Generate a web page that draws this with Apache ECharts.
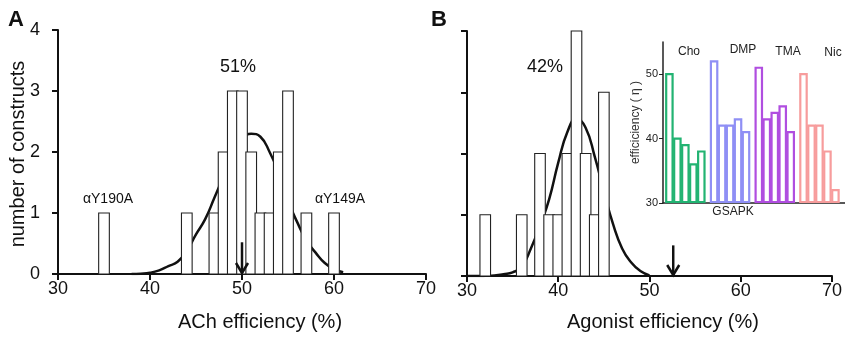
<!DOCTYPE html>
<html>
<head>
<meta charset="utf-8">
<script src="https://cdn.jsdelivr.net/npm/echarts@6/dist/echarts.min.js"></script>
<style>
  html, body { margin: 0; padding: 0; background: #fff; }
  #chart { width: 845px; height: 339px; }
</style>
</head>
<body>
<div id="chart"></div>
<script>
// panel A: ACh efficiency histogram
const achBins = [35, 44, 47, 48, 49, 50, 51, 52, 53, 54, 55, 57, 60];
const achCounts = [1, 1, 1, 2, 3, 3, 2, 1, 1, 2, 3, 1, 1];
const achFitX = [38, 39, 40, 41, 42, 43, 44, 45, 46, 47, 48, 49, 50, 51, 52, 53, 54, 55, 56, 57, 58, 59, 60, 61];
const achFitY = [0, 0.005, 0.02, 0.06, 0.13, 0.2, 0.38, 0.65, 0.9, 1.25, 1.6, 1.95, 2.2, 2.3, 2.25, 2.0, 1.65, 1.2, 0.85, 0.55, 0.35, 0.18, 0.08, 0.03];
const achArrow = [50, 0.52];

// panel B: agonist efficiency histogram
const agoBins = [32, 36, 38, 39, 40, 41, 42, 43, 44, 45];
const agoCounts = [1, 1, 2, 1, 1, 2, 4, 2, 1, 3];
const agoFitX = [30, 31, 32, 33, 34, 35, 36, 37, 38, 39, 40, 41, 42, 43, 44, 45, 46, 47, 48, 49, 50];
const agoFitY = [0, 0, 0.003, 0.01, 0.03, 0.06, 0.15, 0.45, 0.82, 1.25, 1.85, 2.35, 2.57, 2.42, 1.95, 1.38, 0.85, 0.45, 0.22, 0.08, 0.01];
const agoArrow = [52.6, 0.5];

// inset: efficiency per agonist
const insetGroups = ["Cho", "DMP", "TMA", "Nic"];
const choEta = [50, 40, 39, 36, 38];
const dmpEta = [52, 42, 42, 43, 41];
const tmaEta = [51, 43, 44, 45, 41];
const nicEta = [50, 42, 42, 38, 32];
const insetColors = ["#22b372", "#8f8ff5", "#b04ee0", "#f79c9c"];
const insetTicks = [30, 40, 50];

const chart = echarts.init(document.getElementById("chart"));

const zip = (xs, ys) => xs.map((x, i) => [x, ys[i]]);

const insetData = [];
[choEta, dmpEta, tmaEta, nicEta].forEach((vals, g) => {
    vals.forEach((v, i) => insetData.push([0.8 + g * 5.6 + i, v, g]));
});

function histItem(params, api) {
    const x = api.value(0), c = api.value(1);
    const p0 = api.coord([x - 0.58, c]);
    const p1 = api.coord([x + 0.58, 0]);
    return {
        type: "rect",
        shape: { x: p0[0], y: p0[1], width: p1[0] - p0[0], height: p1[1] - p0[1] },
        style: { fill: "#fff", stroke: "#222", lineWidth: 1.1 },
    };
}

function arrowItem(params, api) {
    const top = api.coord([api.value(0), api.value(1)]);
    const bot = api.coord([api.value(0), 0]);
    return {
        type: "group",
        children: [
            { type: "line", shape: { x1: top[0], y1: top[1], x2: bot[0], y2: bot[1] - 1 }, style: { stroke: "#111", lineWidth: 2.5 } },
            { type: "polyline", shape: { points: [[bot[0] - 6, bot[1] - 11], [bot[0], bot[1] - 1], [bot[0] + 6, bot[1] - 11]] }, style: { stroke: "#111", lineWidth: 2.5, fill: null } },
        ],
    };
}

function insetItem(params, api) {
    const x = api.value(0), v = api.value(1), g = api.value(2);
    const p0 = api.coord([x - 0.4, v]);
    const p1 = api.coord([x + 0.4, 30]);
    return {
        type: "rect",
        shape: { x: p0[0], y: p0[1], width: p1[0] - p0[0], height: p1[1] - p0[1] - 1 },
        style: { fill: "#fff", stroke: insetColors[g], lineWidth: 2.2 },
    };
}

const mainX = (gridIndex) => ({
    type: "value", gridIndex, min: 30, max: 70, interval: 10,
    axisLine: { onZero: false, lineStyle: { color: "#111", width: 2 } },
    axisTick: { length: 6, lineStyle: { color: "#111", width: 2 } },
    axisLabel: { color: "#111", fontSize: 18, fontFamily: "Liberation Sans", margin: 6 },
    splitLine: { show: false },
});
const mainY = (gridIndex, labels) => ({
    type: "value", gridIndex, min: 0, max: 4, interval: 1,
    axisLine: { show: true, onZero: false, lineStyle: { color: "#111", width: 2 } },
    axisTick: { show: true, length: 6, lineStyle: { color: "#111", width: 2 } },
    axisLabel: { show: labels, color: "#111", fontSize: 18, fontFamily: "Liberation Sans", margin: 18 },
    splitLine: { show: false },
});

const txt = (text, x, y, size, extra) => ({
    type: "text", x, y, z: 100,
    style: Object.assign({ text, fill: "#111", font: size + "px 'Liberation Sans'", align: "center", verticalAlign: "middle" }, extra || {}),
});

const option = {
    animation: false,
    backgroundColor: "#fff",
    grid: [
        { left: 58, top: 30, width: 368, height: 244 },
        { left: 467, top: 31, width: 366, height: 245 },
        { left: 663, top: 42, width: 190, height: 161 },
    ],
    xAxis: [
        mainX(0),
        mainX(1),
        {
            type: "value", gridIndex: 2, min: 0, max: 22.8,
            axisLine: { onZero: false, lineStyle: { color: "#222", width: 1.5 } },
            axisTick: { show: false }, axisLabel: { show: false }, splitLine: { show: false },
        },
    ],
    yAxis: [
        mainY(0, true),
        mainY(1, false),
        {
            type: "value", gridIndex: 2, min: 30, max: 55,
            name: "efficiciency ( \u03b7 )", nameLocation: "middle", nameGap: 15,
            nameTextStyle: { color: "#333", fontSize: 12, fontFamily: "Liberation Sans" },
            axisLine: { show: true, onZero: false, lineStyle: { color: "#222", width: 1.5 } },
            axisTick: { show: true, length: 4, customValues: insetTicks, lineStyle: { color: "#222" } },
            axisLabel: { color: "#222", fontSize: 11, fontFamily: "Liberation Sans", margin: 5, customValues: insetTicks },
            splitLine: { show: false },
        },
    ],
    series: [
        { type: "line", xAxisIndex: 0, yAxisIndex: 0, z: 2, data: zip(achFitX, achFitY), smooth: true, showSymbol: false, lineStyle: { color: "#111", width: 2.5 } },
        { type: "custom", xAxisIndex: 0, yAxisIndex: 0, z: 4, data: zip(achBins, achCounts), renderItem: histItem },
        { type: "custom", xAxisIndex: 0, yAxisIndex: 0, z: 6, data: [achArrow], renderItem: arrowItem },
        { type: "line", xAxisIndex: 1, yAxisIndex: 1, z: 2, data: zip(agoFitX, agoFitY), smooth: true, showSymbol: false, lineStyle: { color: "#111", width: 2.5 } },
        { type: "custom", xAxisIndex: 1, yAxisIndex: 1, z: 4, data: zip(agoBins, agoCounts), renderItem: histItem },
        { type: "custom", xAxisIndex: 1, yAxisIndex: 1, z: 6, data: [agoArrow], renderItem: arrowItem },
        { type: "custom", xAxisIndex: 2, yAxisIndex: 2, z: 4, data: insetData, renderItem: insetItem },
    ],
    graphic: [
        txt("A", 8, 20, 22, { align: "left", font: "bold 22px 'Liberation Sans'" }),
        txt("B", 431, 20, 22, { align: "left", font: "bold 22px 'Liberation Sans'" }),
        txt("51%", 238, 67, 18),
        txt("42%", 545, 67, 18),
        txt("\u03b1Y190A", 108, 199, 14),
        txt("\u03b1Y149A", 340, 199, 14),
        txt("ACh efficiency (%)", 260, 322, 20),
        txt("Agonist efficiency (%)", 663, 322, 20),
        Object.assign(txt("number of constructs", 0, 0, 20), { x: 18, y: 154, rotation: Math.PI / 2 }),
        txt(insetGroups[0], 689, 52, 12, { fill: "#222" }),
        txt(insetGroups[1], 743, 50, 12, { fill: "#222" }),
        txt(insetGroups[2], 788, 52, 12, { fill: "#222" }),
        txt(insetGroups[3], 833, 53, 12, { fill: "#222" }),
        txt("GSAPK", 733, 212, 12, { fill: "#222" }),
    ],
};

chart.setOption(option);
</script>
</body>
</html>
